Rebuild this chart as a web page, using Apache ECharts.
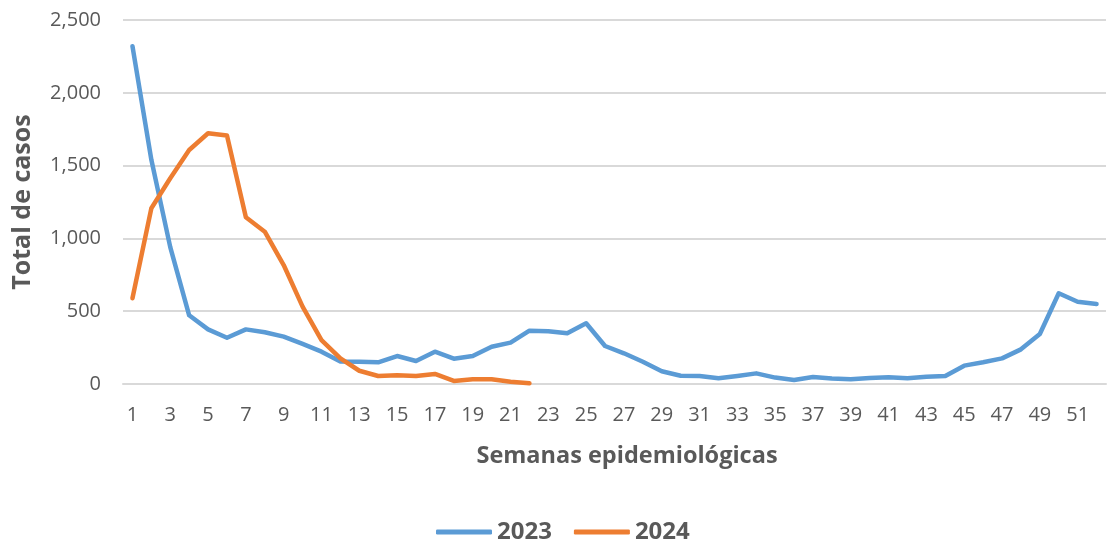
<!DOCTYPE html>
<html>
<head>
<meta charset="utf-8">
<script src="https://cdn.jsdelivr.net/npm/echarts@6/dist/echarts.min.js"></script>
<style>
	html, body { margin:0; padding:0; background:#fff; }
	#chart { width:1118px; height:546px; }
</style>
</head>
<body>
<div id="chart"></div>
<script type="text/javascript">
	// semanas epidemiológicas 1..52
	var semanas = [];
	for (var i = 1; i <= 52; i++) semanas.push(String(i));

	var casos2023 = [2320, 1540, 940, 472, 375, 318, 375, 355, 325, 275,
		222, 155, 153, 149, 192, 158, 222, 174, 192, 256,
		284, 366, 362, 348, 417, 261, 211, 153, 88, 57,
		55, 39, 55, 73, 44, 27, 48, 37, 32, 41,
		46, 39, 50, 55, 126, 149, 176, 238, 343, 623,
		565, 549];

	var casos2024 = [589, 1207, 1413, 1607, 1722, 1706, 1145, 1046, 817, 531,
		302, 176, 91, 55, 60, 55, 69, 21, 32, 32,
		16, 5];

	var yTicks = [0, 500, 1000, 1500, 2000, 2500];

	var fuente = '"Open Sans", "Liberation Sans", sans-serif';

	var myChart = echarts.init(document.getElementById('chart'));
	var option = {
		animation: false,
		grid: { left: 123, right: 12, top: 20, bottom: 162 },
		legend: {
			top: 520,
			left: 436,
			padding: 0,
			itemWidth: 56,
			itemHeight: 5,
			itemGap: 22,
			icon: 'roundRect',
			textStyle: { fontFamily: fuente, fontSize: 24, fontWeight: 'bold', color: '#595959' },
			data: ['2023', '2024']
		},
		xAxis: {
			type: 'category',
			boundaryGap: true,
			data: semanas,
			name: 'Semanas epidemiológicas',
			nameLocation: 'middle',
			nameGap: 60,
			nameTextStyle: { fontFamily: fuente, fontSize: 23.5, fontWeight: 'bold', color: '#595959', padding: [0, 0, 0, 25] },
			axisLine: { lineStyle: { color: '#d9d9d9', width: 2 } },
			axisTick: { show: false },
			axisLabel: { interval: 1, margin: 21, fontFamily: fuente, fontSize: 20, color: '#595959' }
		},
		yAxis: {
			type: 'value',
			min: 0,
			max: 2500,
			interval: 500,
			name: 'Total de casos',
			nameLocation: 'middle',
			nameGap: 88,
			nameTextStyle: { fontFamily: fuente, fontSize: 25, fontWeight: 'bold', color: '#595959' },
			axisLine: { show: false },
			axisTick: { show: false },
			splitLine: { lineStyle: { color: '#d9d9d9', width: 2 } },
			axisLabel: {
				margin: 22,
				fontFamily: fuente,
				fontSize: 20,
				color: '#595959',
				formatter: function (v) {
					return yTicks.indexOf(v) >= 0 ? v.toLocaleString('en-US') : '';
				}
			}
		},
		series: [
			{
				name: '2023',
				type: 'line',
				data: casos2023,
				showSymbol: false,
				symbol: 'none',
				lineStyle: { color: '#5B9BD5', width: 4.5, cap: 'round', join: 'round' },
				itemStyle: { color: '#5B9BD5' }
			},
			{
				name: '2024',
				type: 'line',
				data: casos2024,
				showSymbol: false,
				symbol: 'none',
				lineStyle: { color: '#ED7D31', width: 4.5, cap: 'round', join: 'round' },
				itemStyle: { color: '#ED7D31' }
			}
		]
	};
	myChart.setOption(option);
</script>
</body>
</html>
